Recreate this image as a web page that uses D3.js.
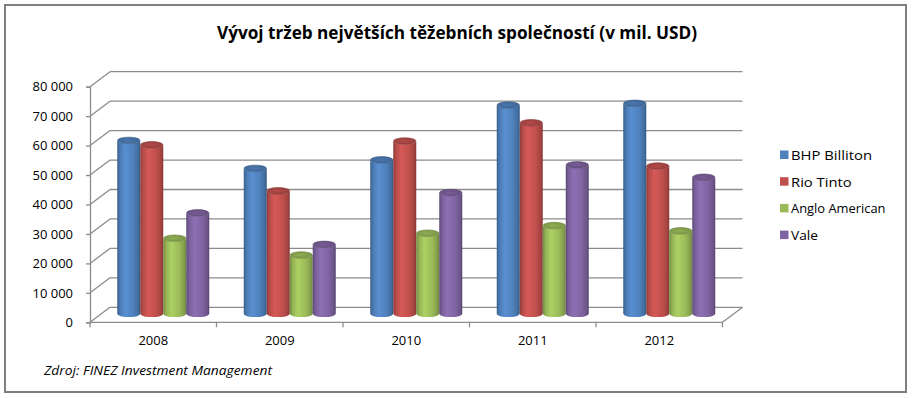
<!DOCTYPE html>
<html>
<head>
<meta charset="utf-8">
<script src="https://cdn.jsdelivr.net/npm/d3@7"></script>
<style>
  body { margin: 0; background: #fff; }
  svg text { font-family: "Open Sans", sans-serif; fill: #000; }
</style>
</head>
<body>
<div id="chart"></div>
<script>
// data (mil. USD)
const categories = ["2008", "2009", "2010", "2011", "2012"];
const seriesNames = ["BHP Billiton", "Rio Tinto", "Anglo American", "Vale"];
const bhp = [59200, 49700, 52600, 71200, 71800];
const rio = [57700, 42100, 59000, 65200, 50500];
const anglo = [26000, 20300, 27700, 30300, 28500];
const vale = [34600, 23900, 41500, 50900, 46700];
const yTicks = [0, 10000, 20000, 30000, 40000, 50000, 60000, 70000, 80000];
const colors = ["#4f81bd", "#c0504d", "#9bbb59", "#8064a2"];

const series = [bhp, rio, anglo, vale];

const width = 912, height = 398;
const depthX = 20, depthY = -15;   // 3d offset of back wall
const gridColor = "#8c8c8c";

const svg = d3.select("#chart").append("svg")
  .attr("width", width)
  .attr("height", height);

// outer frame
svg.append("rect")
  .attr("x", 5).attr("y", 5)
  .attr("width", 901).attr("height", 387)
  .attr("fill", "#fff")
  .attr("stroke", "#7f7f7f")
  .attr("stroke-width", 2);

// scales: front plane, middle (bars), back wall
const x = d3.scaleBand().domain(categories).range([90, 722.5]);
const yFront = d3.scaleLinear().domain([0, 80000]).range([322.3, 86.7]);
const yMid = d3.scaleLinear().domain([0, 80000]).range([322.3 + depthY / 2, 86.7 + depthY / 2]);
const yBack = d3.scaleLinear().domain([0, 80000]).range([322.3 + depthY, 86.7 + depthY]);

const groupW = 92;
const inner = d3.scaleBand().domain(d3.range(series.length)).range([0, groupW]);

const fmt = d3.formatLocale({ decimal: ",", thousands: "\u00a0", grouping: [3], currency: ["", ""] }).format(",d");

// back wall gridlines + left wall diagonals
const walls = svg.append("g").attr("stroke", gridColor).attr("stroke-width", 1.3).attr("fill", "none");
walls.selectAll("line.grid")
  .data(yTicks)
  .join("line")
  .attr("class", "grid")
  .attr("x1", 90 + depthX).attr("x2", 722.5 + depthX)
  .attr("y1", d => yBack(d)).attr("y2", d => yBack(d));
walls.selectAll("line.side")
  .data(yTicks)
  .join("line")
  .attr("class", "side")
  .attr("x1", 90).attr("x2", 90 + depthX)
  .attr("y1", d => yFront(d)).attr("y2", d => yBack(d));
// floor right edge
walls.append("line")
  .attr("x1", 722.5).attr("y1", yFront(0))
  .attr("x2", 722.5 + depthX).attr("y2", yBack(0));

// gradients for cylinders
const defs = svg.append("defs");
colors.forEach((c, i) => {
  const base = d3.color(c);
  const g = defs.append("linearGradient").attr("id", "body" + i)
    .attr("x1", "0%").attr("x2", "100%").attr("y1", "0%").attr("y2", "0%");
  g.append("stop").attr("offset", "0%").attr("stop-color", base.darker(0.9));
  g.append("stop").attr("offset", "12%").attr("stop-color", base.darker(0.15));
  g.append("stop").attr("offset", "35%").attr("stop-color", base.brighter(0.3));
  g.append("stop").attr("offset", "70%").attr("stop-color", base);
  g.append("stop").attr("offset", "92%").attr("stop-color", base.darker(0.5));
  g.append("stop").attr("offset", "100%").attr("stop-color", base.darker(1.1));

  const t = defs.append("radialGradient").attr("id", "cap" + i)
    .attr("cx", "45%").attr("cy", "50%").attr("r", "60%");
  t.append("stop").attr("offset", "0%").attr("stop-color", base.darker(0.2));
  t.append("stop").attr("offset", "100%").attr("stop-color", base.darker(0.7));
});

// cylinders
const rx = inner.bandwidth() / 2, ry = 3.3;
const bars = [];
series.forEach((vals, si) => {
  vals.forEach((v, ci) => bars.push({ si, cat: categories[ci], v }));
});

const cyl = svg.append("g").selectAll("g")
  .data(bars)
  .join("g")
  .attr("transform", d => {
    const cx = x(d.cat) + (x.bandwidth() - groupW) / 2 + inner(d.si) + rx + depthX / 2;
    return "translate(" + cx + ",0)";
  });

cyl.append("path")
  .attr("fill", d => "url(#body" + d.si + ")")
  .attr("d", d => {
    const yt = yMid(d.v), yb = yMid(0) - 1;
    return "M" + (-rx) + "," + yt +
      "L" + (-rx) + "," + yb +
      "A" + rx + "," + ry + " 0 0 0 " + rx + "," + yb +
      "L" + rx + "," + yt +
      "A" + rx + "," + ry + " 0 0 1 " + (-rx) + "," + yt + "Z";
  });

cyl.append("ellipse")
  .attr("cx", 0)
  .attr("cy", d => yMid(d.v))
  .attr("rx", rx - 0.3).attr("ry", ry)
  .attr("fill", d => "url(#cap" + d.si + ")")
  .attr("stroke", d => d3.color(colors[d.si]).darker(1))
  .attr("stroke-width", 0.6);

// front floor line and value axis
const axes = svg.append("g").attr("stroke", gridColor).attr("stroke-width", 1.3);
axes.append("line")
  .attr("x1", 90).attr("x2", 722.5)
  .attr("y1", yFront(0)).attr("y2", yFront(0));

const yAxis = svg.append("g")
  .attr("transform", "translate(90,0)")
  .call(d3.axisLeft(yFront).tickValues(yTicks).tickFormat(fmt).tickSize(4).tickPadding(13));
yAxis.select(".domain").attr("stroke", gridColor).attr("stroke-width", 1.3);
yAxis.selectAll(".tick line").attr("stroke", gridColor).attr("stroke-width", 1.3);
yAxis.selectAll("text").attr("font-size", 13).attr("font-family", "Open Sans").attr("fill", "#000");

// category tick marks at band edges
const edges = categories.map(c => x(c)).concat([x.range()[1]]);
axes.selectAll("line.ctick")
  .data(edges)
  .join("line")
  .attr("x1", d => d).attr("x2", d => d)
  .attr("y1", yFront(0)).attr("y2", yFront(0) + 5);

const xAxis = svg.append("g")
  .attr("transform", "translate(0," + yFront(0) + ")")
  .call(d3.axisBottom(x).tickSize(0).tickPadding(13));
xAxis.select(".domain").remove();
xAxis.selectAll("text").attr("font-size", 13).attr("font-family", "Open Sans").attr("fill", "#000");

// title (squeezed to the width of the narrow original font)
svg.append("text")
  .attr("x", 457).attr("y", 38.5)
  .attr("text-anchor", "middle")
  .attr("font-size", 18)
  .attr("font-weight", "bold")
  .attr("textLength", 480)
  .attr("lengthAdjust", "spacingAndGlyphs")
  .text("Vývoj tržeb největších těžebních společností (v mil. USD)");

// legend
const legend = svg.append("g").selectAll("g")
  .data(seriesNames)
  .join("g")
  .attr("transform", (d, i) => "translate(780," + (155 + i * 26.7) + ")");
legend.append("rect")
  .attr("x", 0).attr("y", -4.5)
  .attr("width", 8.5).attr("height", 8.5)
  .attr("fill", (d, i) => colors[i]);
legend.append("text")
  .attr("x", 11).attr("y", 4.8)
  .attr("font-size", 13.5)
  .attr("textLength", d => d.length * 6.75)
  .attr("lengthAdjust", "spacingAndGlyphs")
  .text(d => d);

// source note
svg.append("text")
  .attr("x", 44).attr("y", 375)
  .attr("font-size", 13.5)
  .attr("font-style", "italic")
  .attr("textLength", 228)
  .attr("lengthAdjust", "spacingAndGlyphs")
  .text("Zdroj: FINEZ Investment Management");
</script>
</body>
</html>
